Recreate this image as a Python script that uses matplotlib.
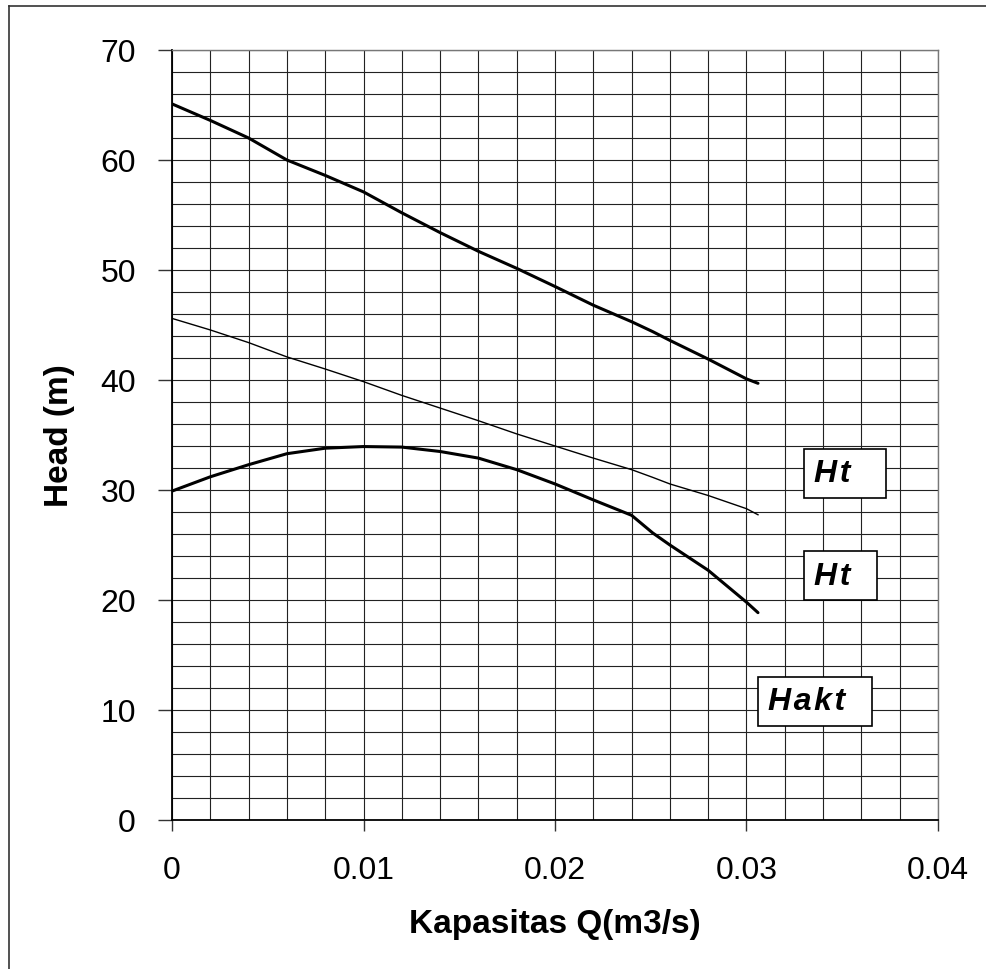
import matplotlib
matplotlib.use("Agg")
import matplotlib.pyplot as plt
from matplotlib.lines import Line2D
import numpy as np

plt.rcParams['font.family'] = ['Liberation Sans', 'DejaVu Sans']

# Kapasitas Q (m3/s)
q = [0.0, 0.002, 0.004, 0.006, 0.008, 0.010, 0.012, 0.014, 0.016, 0.018,
     0.020, 0.022, 0.024, 0.0251, 0.026, 0.028, 0.030, 0.0306]

# Head curves (m)
ht_upper = [65.1, 63.6, 62.0, 60.0, 58.6, 57.1, 55.2, 53.4, 51.7, 50.15,
            48.5, 46.8, 45.3, 44.4, 43.6, 41.9, 40.1, 39.7]
ht_lower = [45.6, 44.55, 43.4, 42.1, 41.0, 39.85, 38.6, 37.45, 36.3, 35.1,
            34.0, 32.9, 31.85, 31.15, 30.55, 29.5, 28.3, 27.75]
hakt = [29.9, 31.2, 32.3, 33.3, 33.8, 33.95, 33.9, 33.5, 32.9, 31.85,
        30.55, 29.1, 27.7, 26.1, 25.0, 22.7, 19.8, 18.85]

labels = ["H\u200at   ", "H\u200at  ", "H\u200aa\u200ak\u200at  "]
label_y = [31.5, 22.2, 10.8]
label_x = [0.0335, 0.0335, 0.0311]

fig = plt.figure(figsize=(9.87, 9.70), dpi=100)
ax = fig.add_axes([172/987, 1 - 821/970, 766/987, 770/970])

ax.plot(q, ht_upper, color='black', lw=2.2, solid_capstyle='round')
ax.plot(q, ht_lower, color='black', lw=1.0)
ax.plot(q, hakt, color='black', lw=2.2, solid_capstyle='round')

ax.set_xlim(0, 0.04)
ax.set_ylim(0, 70)
ax.set_xticks(np.arange(0, 0.0401, 0.01))
ax.set_xticklabels(["0", "0.01", "0.02", "0.03", "0.04"])
ax.set_yticks(np.arange(0, 71, 10))
ax.set_xticks(np.arange(0, 0.0401, 0.002), minor=True)
ax.set_yticks(np.arange(0, 71, 2), minor=True)
ax.grid(which='both', color='#222222', lw=0.8)
ax.set_axisbelow(True)
ax.tick_params(axis='both', which='major', direction='out', labelsize=23,
               width=1, color='#333333')
ax.tick_params(axis='y', which='major', length=10, pad=16)
ax.tick_params(axis='x', which='major', length=8, pad=17)
ax.tick_params(which='minor', length=0)

for s in ['top', 'right']:
    ax.spines[s].set_color('#777777')
    ax.spines[s].set_linewidth(1)
for s in ['left', 'bottom']:
    ax.spines[s].set_color('black')
    ax.spines[s].set_linewidth(1.3)

ax.set_xlabel("Kapasitas Q(m3/s)", fontsize=24, fontweight='bold', labelpad=17)
ax.set_ylabel("Head (m)", fontsize=24, fontweight='bold', labelpad=18)

for t, x, y in zip(labels, label_x, label_y):
    ax.text(x, y, t, fontsize=23, fontweight='bold', style='italic',
            va='center', ha='left',
            bbox=dict(boxstyle='square,pad=0.3', fc='white', ec='black', lw=1.2))

# outer frame (left and top edges visible in the reference)
fig.add_artist(Line2D([9/987, 9/987], [0, 1 - 7/970], color='#333333', lw=1.2,
                      transform=fig.transFigure))
fig.add_artist(Line2D([9/987, 1], [1 - 7/970, 1 - 7/970], color='#333333', lw=1.2,
                      transform=fig.transFigure))

fig.savefig("out.png", dpi=100)
